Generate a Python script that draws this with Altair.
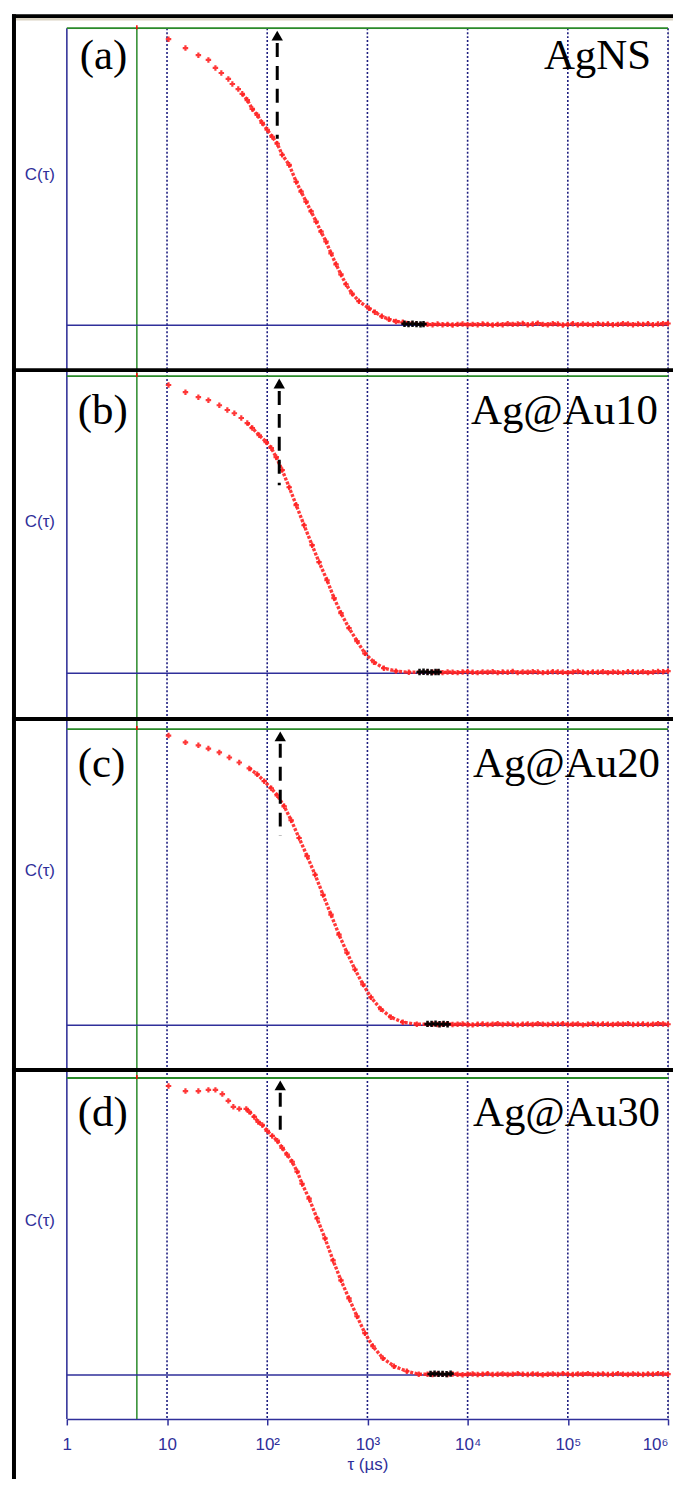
import altair as alt
import pandas as pd

# ---------------- data ----------------
SAMPLES = ["AgNS", "Ag@Au10", "Ag@Au20", "Ag@Au30"]
PANEL_TAGS = ["(a)", "(b)", "(c)", "(d)"]
GRID_TAU = [1, 10, 100, 1000, 10000, 100000, 1000000]
TICK_LABELS = ["1", "10", "10²", "10³", "10⁴", "10⁵", "10⁶"]
CUTOFF_TAU = 5

# decay part: log10(tau / µs) and C(tau)
DECAY_LOG_TAU_A = [1.015, 1.184, 1.313, 1.413, 1.483, 1.542, 1.612, 1.652, 1.711, 1.751, 1.801, 1.851,
                   1.900, 1.950, 2.000, 2.050, 2.100, 2.149, 2.219, 2.289, 2.338, 2.388, 2.438, 2.488,
                   2.537, 2.587, 2.637, 2.687, 2.736, 2.786, 2.846, 2.915, 3.015, 3.075, 3.144, 3.214,
                   3.284, 3.353]
DECAY_C_A = [0.963, 0.933, 0.909, 0.893, 0.866, 0.849, 0.829, 0.812, 0.795, 0.779, 0.758, 0.728,
             0.708, 0.681, 0.658, 0.634, 0.611, 0.574, 0.540, 0.483, 0.450, 0.416, 0.383, 0.349,
             0.315, 0.282, 0.242, 0.205, 0.171, 0.138, 0.107, 0.081, 0.057, 0.044, 0.030, 0.020,
             0.013, 0.010]

DECAY_LOG_TAU_B = [1.015, 1.184, 1.313, 1.413, 1.522, 1.602, 1.672, 1.741, 1.801, 1.851, 1.920, 1.990,
                   2.040, 2.090, 2.149, 2.219, 2.289, 2.368, 2.448, 2.517, 2.597, 2.667, 2.736, 2.816,
                   2.896, 2.975, 3.065, 3.164, 3.284, 3.413]
DECAY_C_B = [0.970, 0.946, 0.929, 0.919, 0.902, 0.886, 0.875, 0.859, 0.842, 0.825, 0.801, 0.778,
             0.758, 0.727, 0.684, 0.626, 0.566, 0.498, 0.431, 0.374, 0.313, 0.253, 0.202, 0.152,
             0.108, 0.067, 0.037, 0.017, 0.007, 0.003]

DECAY_LOG_TAU_C = [1.015, 1.184, 1.313, 1.413, 1.522, 1.622, 1.721, 1.821, 1.900, 1.970, 2.040, 2.100,
                   2.169, 2.239, 2.318, 2.398, 2.478, 2.557, 2.637, 2.716, 2.796, 2.876, 2.955, 3.035,
                   3.134, 3.234, 3.353, 3.493]
DECAY_C_C = [0.978, 0.955, 0.945, 0.934, 0.921, 0.904, 0.887, 0.867, 0.847, 0.824, 0.800, 0.776,
             0.739, 0.692, 0.632, 0.571, 0.508, 0.440, 0.373, 0.306, 0.245, 0.188, 0.138, 0.094,
             0.054, 0.027, 0.010, 0.003]

DECAY_LOG_TAU_D = [1.015, 1.184, 1.313, 1.413, 1.483, 1.552, 1.612, 1.662, 1.721, 1.791, 1.821, 1.871,
                   1.910, 1.950, 2.000, 2.050, 2.100, 2.149, 2.199, 2.249, 2.299, 2.348, 2.418, 2.498,
                   2.577, 2.657, 2.736, 2.816, 2.896, 2.975, 3.055, 3.154, 3.264, 3.393, 3.512]
DECAY_C_D = [0.973, 0.956, 0.956, 0.960, 0.960, 0.946, 0.923, 0.903, 0.896, 0.896, 0.886, 0.869,
             0.852, 0.842, 0.822, 0.805, 0.789, 0.765, 0.742, 0.718, 0.685, 0.644, 0.594, 0.527,
             0.460, 0.386, 0.319, 0.258, 0.198, 0.141, 0.097, 0.057, 0.030, 0.013, 0.003]

# flat baseline part (shared channel positions, per-sample values)
BASE_LOG_TAU = [3.60, 3.65, 3.70, 3.75, 3.80, 3.85, 3.90, 3.95, 4.00, 4.05, 4.10, 4.15, 4.20,
                4.25, 4.30, 4.35, 4.40, 4.45, 4.50, 4.55, 4.60, 4.65, 4.70, 4.75, 4.80, 4.85,
                4.90, 4.95, 5.00, 5.05, 5.10, 5.15, 5.20, 5.25, 5.30, 5.35, 5.40, 5.45, 5.50,
                5.55, 5.60, 5.65, 5.70, 5.75, 5.80, 5.85, 5.90, 5.95, 6.00]
BASE_C_A = [0.003, 0.002, 0.004, 0.002, 0.003, 0.001, 0.003, 0.004, 0.002, 0.003, 0.002, 0.004, 0.003,
            0.001, 0.003, 0.002, 0.005, 0.003, 0.004, 0.006, 0.002, 0.004, 0.007, 0.003, 0.002, 0.005,
            0.004, 0.001, 0.003, 0.005, 0.002, 0.004, 0.003, 0.002, 0.005, 0.003, 0.004, 0.002, 0.003,
            0.005, 0.004, 0.002, 0.004, 0.003, 0.005, 0.002, 0.004, 0.005, 0.006]
BASE_C_B = [0.004, 0.003, 0.005, 0.002, 0.004, 0.003, 0.002, 0.004, 0.005, 0.003, 0.002, 0.004, 0.003,
            0.005, 0.002, 0.004, 0.003, 0.006, 0.002, 0.004, 0.003, 0.005, 0.004, 0.002, 0.003, 0.005,
            0.004, 0.003, 0.002, 0.004, 0.006, 0.003, 0.002, 0.004, 0.003, 0.005, 0.002, 0.004, 0.003,
            0.002, 0.005, 0.004, 0.003, 0.005, 0.002, 0.004, 0.006, 0.005, 0.007]
BASE_C_C = [0.003, 0.004, 0.002, 0.003, 0.005, 0.002, 0.003, 0.004, 0.002, 0.001, 0.003, 0.004, 0.002,
            0.003, 0.005, 0.002, 0.004, 0.003, 0.001, 0.003, 0.004, 0.002, 0.005, 0.003, 0.002, 0.004,
            0.003, 0.005, 0.002, 0.003, 0.004, 0.001, 0.003, 0.005, 0.002, 0.004, 0.003, 0.002, 0.004,
            0.003, 0.005, 0.002, 0.003, 0.004, 0.002, 0.003, 0.005, 0.004, 0.003]
BASE_C_D = [0.003, 0.002, 0.004, 0.003, 0.002, 0.004, 0.003, 0.001, 0.003, 0.004, 0.002, 0.003, 0.005,
            0.002, 0.003, 0.004, 0.002, 0.003, 0.005, 0.003, 0.002, 0.004, 0.003, 0.001, 0.003, 0.004,
            0.002, 0.005, 0.003, 0.002, 0.004, 0.003, 0.005, 0.002, 0.003, 0.004, 0.002, 0.003, 0.005,
            0.003, 0.002, 0.004, 0.003, 0.002, 0.004, 0.003, 0.005, 0.004, 0.003]

# black markers where the decay meets the baseline
BLACK_LOG_TAU = [
    [3.37, 3.41, 3.45, 3.49, 3.53, 3.56],
    [3.52, 3.56, 3.60, 3.64, 3.68, 3.71],
    [3.60, 3.64, 3.68, 3.72, 3.76, 3.80],
    [3.63, 3.67, 3.71, 3.75, 3.79, 3.83],
]
BLACK_C = [
    [0.005, 0.004, 0.005, 0.004, 0.003, 0.004],
    [0.004, 0.005, 0.004, 0.003, 0.004, 0.004],
    [0.004, 0.004, 0.005, 0.003, 0.004, 0.003],
    [0.004, 0.005, 0.004, 0.004, 0.003, 0.005],
]

# dashed arrows
ARROW_LOG_TAU = [2.10, 2.12, 2.13, 2.13]
ARROW_HEAD_C = [0.975, 0.975, 0.975, 0.975]
ARROW_TOP_C = [0.950, 0.950, 0.950, 0.950]
ARROW_BOTTOM_C = [0.628, 0.633, 0.640, 0.822]

DECAYS = [(DECAY_LOG_TAU_A, DECAY_C_A), (DECAY_LOG_TAU_B, DECAY_C_B),
          (DECAY_LOG_TAU_C, DECAY_C_C), (DECAY_LOG_TAU_D, DECAY_C_D)]
BASES = [BASE_C_A, BASE_C_B, BASE_C_C, BASE_C_D]

# ---------------- layout / styling (pixels inside the plot area) ----------------
W = 603
HT = 1395
PANEL_TOP = [0, 349, 703, 1053]        # green frame line of each panel
PANEL_BASE = [298, 647, 1000, 1351]    # C = 0 line of each panel
DIVIDERS = [343, 693, 1045]            # black separators
TAG_POS = [(13, 41), (11, 397), (11, 751), (11, 1101)]
NAME_POS = [(586, 41), (593, 397), (595, 751), (595, 1101)]
CLABEL_Y = [147, 495, 845, 1196]
NAVY = "#2f2f9a"
GRIDC = "#1e1e80"
GREEN = "#2a8a2a"
RED = "#ff2222"
LDENSE = 1.75

dummy = pd.DataFrame({"k": [0]})

xaxis = alt.Axis(values=GRID_TAU, grid=False,
                 labels=True,
                 labelExpr="[" + ",".join("'%s'" % t for t in TICK_LABELS) + "][round(log(datum.value)/LN10)]",
                 labelFont="Liberation Sans", labelFontSize=17, labelColor=NAVY, labelPadding=12,
                 labelFlush=False,
                 labelAlign={"condition": {"test": "datum.value >= 1000000", "value": "right"},
                             "value": "center"},
                 ticks=True, tickColor=NAVY, tickSize=6, tickWidth=1.5,
                 domain=True, domainColor=NAVY, domainWidth=1.5,
                 title="τ (µs)", titleFont="Liberation Sans", titleFontSize=17,
                 titleFontWeight="normal", titleColor=NAVY, titlePadding=4)
xs = alt.Scale(type="log", domain=[1, 1000000], nice=False)


def X(f="tau"):
    return alt.X(f + ":Q", scale=xs, axis=xaxis)


def panel_layer(i):
    ys = alt.Scale(domain=[0, 1], range=[PANEL_BASE[i], PANEL_TOP[i]], nice=False, zero=False)

    def Y(f="C"):
        return alt.Y(f + ":Q", scale=ys, axis=None)

    L, C = DECAYS[i]
    pts = pd.DataFrame({"tau": [10 ** v for v in L] + [10 ** v for v in BASE_LOG_TAU],
                        "C": list(C) + list(BASES[i])})
    line_df = pts[pts["tau"] >= 10 ** LDENSE]
    blk = pd.DataFrame({"tau": [10 ** v for v in BLACK_LOG_TAU[i]], "C": BLACK_C[i]})
    arrow = pd.DataFrame({"tau": [10 ** ARROW_LOG_TAU[i]], "C_top": [ARROW_TOP_C[i]],
                          "C_bot": [ARROW_BOTTOM_C[i]], "C_head": [ARROW_HEAD_C[i]]})
    zero = pd.DataFrame({"C": [0.0]})

    return alt.layer(
        alt.Chart(zero).mark_rule(color=NAVY, strokeWidth=1.5).encode(
            y=Y(), x=alt.value(0), x2=alt.value(W)),
        alt.Chart(line_df).mark_line(color=RED, strokeWidth=3.4, strokeDash=[3, 1.5],
                                     opacity=0.9).encode(x=X(), y=Y(), order="tau:Q"),
        alt.Chart(pts).mark_point(shape="cross", filled=True, size=30, color=RED,
                                  opacity=0.9).encode(x=X(), y=Y()),
        alt.Chart(blk).mark_point(shape="cross", filled=True, size=40, color="black",
                                  opacity=0.95).encode(x=X(), y=Y()),
        alt.Chart(arrow).mark_rule(color="black", strokeWidth=3, strokeDash=[14, 9]).encode(
            x=X(), y=Y("C_top"), y2=alt.Y2("C_bot:Q")),
        alt.Chart(arrow).mark_point(shape="triangle-up", filled=True, size=130,
                                    color="black", opacity=1).encode(x=X(), y=Y("C_head")),
    )


cut = pd.DataFrame({"tau": [CUTOFF_TAU]})
grid = pd.DataFrame({"tau": GRID_TAU[1:]})

decor = []
# dotted decade grid lines, continuous through all panels
decor.append(alt.Chart(grid).mark_rule(color=GRIDC, strokeWidth=1.6, strokeDash=[2, 2]).encode(
    x=X(), y=alt.value(0), y2=alt.value(HT)))
# continuous left blue axis line
decor.append(alt.Chart(dummy).mark_rule(color=NAVY, strokeWidth=1.5).encode(
    x=alt.value(0), y=alt.value(0), y2=alt.value(HT)))
# green cutoff line
decor.append(alt.Chart(cut).mark_rule(color=GREEN, strokeWidth=1.5).encode(
    x=X(), y=alt.value(0), y2=alt.value(HT)))
for i in range(4):
    decor.append(alt.Chart(dummy).mark_rule(color=GREEN, strokeWidth=1.8).encode(
        x=alt.value(0), x2=alt.value(W), y=alt.value(PANEL_TOP[i])))
    decor.append(alt.Chart(cut).mark_rule(color="#ff0000", strokeWidth=1.5).encode(
        x=X(), y=alt.value(PANEL_TOP[i] - 3), y2=alt.value(PANEL_TOP[i] + 1)))

texts = []
for i in range(4):
    texts.append(alt.Chart(dummy).mark_text(text=PANEL_TAGS[i], font="Liberation Serif", fontSize=43,
                                            align="left", baseline="alphabetic", color="black").encode(
        x=alt.value(TAG_POS[i][0]), y=alt.value(TAG_POS[i][1])))
    texts.append(alt.Chart(dummy).mark_text(text=SAMPLES[i], font="Liberation Serif", fontSize=43,
                                            align="right", baseline="alphabetic", color="black").encode(
        x=alt.value(NAME_POS[i][0]), y=alt.value(NAME_POS[i][1])))
    texts.append(alt.Chart(dummy).mark_text(text="C(τ)", font="Liberation Sans", fontSize=17,
                                            align="center", baseline="middle", color=NAVY).encode(
        x=alt.value(-27), y=alt.value(CLABEL_Y[i])))

frame = []
frame.append(alt.Chart(dummy).mark_rule(color="black", strokeWidth=4).encode(
    x=alt.value(-53), y=alt.value(-14), y2=alt.value(HT + 80)))
frame.append(alt.Chart(dummy).mark_rule(color="black", strokeWidth=4).encode(
    x=alt.value(-55), x2=alt.value(620), y=alt.value(-12)))
frame.append(alt.Chart(dummy).mark_rule(color="#d9d2c2", strokeWidth=2.5).encode(
    x=alt.value(-51), x2=alt.value(620), y=alt.value(-9)))
for d in DIVIDERS:
    frame.append(alt.Chart(dummy).mark_rule(color="black", strokeWidth=4).encode(
        x=alt.value(-55), x2=alt.value(620), y=alt.value(d)))

chart = alt.layer(*decor, *[panel_layer(i) for i in range(4)], *texts, *frame).resolve_scale(
    y="independent"
).properties(
    width=W, height=HT,
    autosize=alt.AutoSizeParams(type="none"),
    padding={"left": 59, "top": 18, "right": 5, "bottom": 58},
).configure_view(stroke=None).configure(background="white")

chart.save("out.html", embed_options={"renderer": "svg", "actions": False})
